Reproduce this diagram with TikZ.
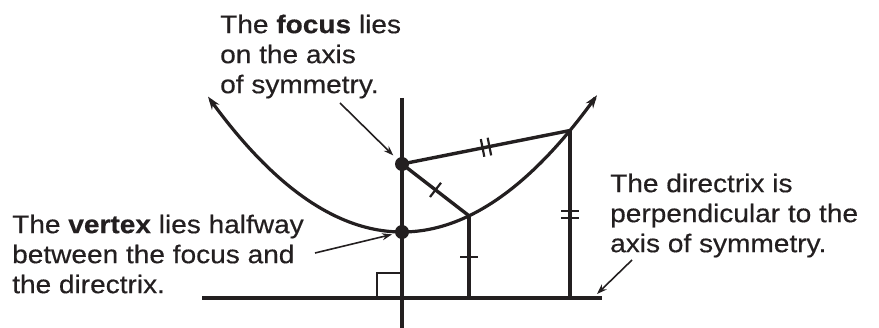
\documentclass[tikz,border=0pt]{standalone}
\usepackage{fontspec}
\newfontfamily\lblfont[FakeStretch=1.1, FakeBold=0.4]{Liberation Sans}
\usetikzlibrary{arrows.meta,decorations.markings}
\definecolor{ink}{HTML}{231F20}
\tikzset{
  mainline/.style={draw=ink, line width=3.4pt},
  pointer/.style={draw=ink, line width=1.6pt, -{Stealth[length=10pt,width=7pt]}},
  dot/.style={circle, fill=ink, inner sep=0pt, minimum size=14pt},
  lbl/.style={anchor=north west, inner sep=0pt, align=left, text=ink,
    font=\lblfont\fontsize{25.5pt}{30pt}\selectfont},
  onetick/.style={postaction={decorate}, decoration={markings,
    mark=at position 0.5 with {\draw[ink, line width=2.2pt] (0,-9pt)--(0,9pt);}}},
  twotick/.style={postaction={decorate}, decoration={markings,
    mark=at position 0.5 with {\draw[ink, line width=2.2pt] (-3.5pt,-9pt)--(-3.5pt,9pt) (3.5pt,-9pt)--(3.5pt,9pt);}}}
}
\begin{document}
\begin{tikzpicture}[x=1pt, y=-1pt]
\useasboundingbox (0,0) rectangle (879,328);
% key points
\coordinate (axtop) at (402,98);
\coordinate (axbot) at (402,328);
\coordinate (dl) at (202,298);
\coordinate (dr) at (602,298);
\coordinate (P1) at (469,215.8);
\coordinate (P2) at (570,130.5);
\coordinate (D1) at (469,298);
\coordinate (D2) at (570,298);
\coordinate (sqa) at (377,298);
\coordinate (sqb) at (377,273);
\coordinate (sqc) at (402,273);
% axis and directrix
\draw[mainline] (axtop) -- (axbot);
\draw[mainline] (dl) -- (dr);
% right angle
\draw[ink, line width=2.4pt] (sqa) -- (sqb) -- (sqc);
% parabola
\draw[ink, line width=3.2pt, {Stealth[length=13pt,width=9pt]}-{Stealth[length=13pt,width=9pt]}]
  plot[domain=-194:195, samples=120, smooth] ({\x+402}, {232-(\x/16.673)^2});
% focus and vertex
\node[dot] (F) at (402,164) {};
\node[dot] (V) at (402,232) {};
% equal segments
\draw[mainline, onetick] (F.center) -- (P1);
\draw[mainline, onetick] (P1) -- (D1);
\draw[mainline, twotick] (F.center) -- (P2);
\draw[mainline, twotick] (P2) -- (D2);
% labels
\node[lbl] (tF) at (220,14.5) {The \textbf{focus} lies\\on the axis\\of symmetry.};
\node[lbl] (tV) at (12,214.5) {The \textbf{vertex} lies halfway\\between the focus and\\the directrix.};
\node[lbl] (tD) at (610,173.5) {The directrix is\\perpendicular to the\\axis of symmetry.};
% pointers
\coordinate (fpt) at (340,103);
\coordinate (vpt) at (315,253);
\coordinate (dpt) at (632,260);
\coordinate (dtip) at (597,294);
\draw[pointer, shorten >=5pt] (fpt) -- (F);
\draw[pointer, shorten >=3pt] (vpt) -- (V);
\draw[pointer] (dpt) -- (dtip);
\end{tikzpicture}
\end{document}
